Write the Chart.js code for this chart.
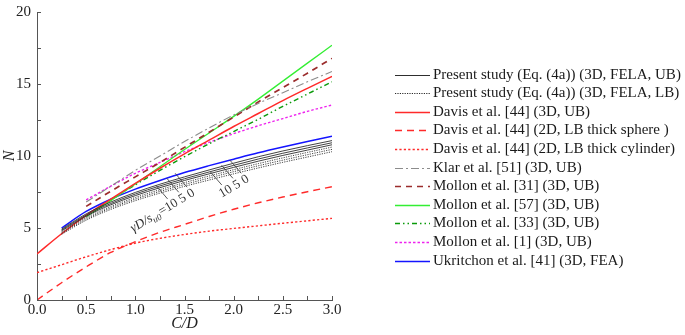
<!DOCTYPE html>
<html>
<head>
<meta charset="utf-8">
<script src="https://cdn.jsdelivr.net/npm/chart.js@4.4.1/dist/chart.umd.min.js"></script>
<style>
  html, body { margin: 0; padding: 0; background: #ffffff; }
  #wrap { position: relative; width: 685px; height: 335px; }
</style>
</head>
<body>
<div id="wrap"><canvas id="c" width="685" height="335"></canvas></div>
<script>
// ---------------- DATA ----------------
const CD_FULL    = [0, 0.25, 0.5, 0.75, 1.0, 1.25, 1.5, 1.75, 2.0, 2.25, 2.5, 2.75, 3.0];
const CD_FROM025 = [0.25, 0.5, 0.75, 1.0, 1.25, 1.5, 1.75, 2.0, 2.25, 2.5, 2.75, 3.0];
const CD_FROM05  = [0.5, 0.75, 1.0, 1.25, 1.5, 1.75, 2.0, 2.25, 2.5, 2.75, 3.0];

// Present study, upper bound (solid), three values of gamma*D/s_u0
const PRESENT_UB_A = [4.92, 5.98, 6.80, 7.47, 8.04, 8.55, 9.03, 9.50, 9.95, 10.35, 10.72, 11.07];
const PRESENT_UB_B = [4.86, 5.90, 6.70, 7.36, 7.92, 8.42, 8.89, 9.35, 9.79, 10.19, 10.56, 10.92];
const PRESENT_UB_C = [4.80, 5.82, 6.61, 7.25, 7.80, 8.30, 8.76, 9.21, 9.64, 10.04, 10.41, 10.78];
// Present study, lower bound (dotted)
const PRESENT_LB_A = [4.72, 5.72, 6.49, 7.12, 7.66, 8.15, 8.61, 9.05, 9.47, 9.87, 10.25, 10.62];
const PRESENT_LB_B = [4.64, 5.63, 6.39, 7.01, 7.54, 8.02, 8.47, 8.91, 9.32, 9.71, 10.09, 10.46];
const PRESENT_LB_C = [4.56, 5.54, 6.29, 6.90, 7.42, 7.89, 8.33, 8.76, 9.17, 9.56, 9.93, 10.30];

const DAVIS_3D_UB     = [3.20, 4.60, 5.88, 7.00, 8.10, 9.15, 10.15, 11.10, 12.05, 12.95, 13.85, 14.70, 15.53];
const DAVIS_2D_SPHERE = [0.00, 1.20, 2.30, 3.30, 4.05, 4.70, 5.25, 5.80, 6.30, 6.75, 7.15, 7.52, 7.87];
const DAVIS_2D_CYL    = [1.90, 2.45, 3.00, 3.50, 3.95, 4.28, 4.55, 4.78, 4.97, 5.15, 5.33, 5.50, 5.67];

const KLAR_51    = [6.80, 7.90, 9.00, 10.00, 11.00, 11.95, 12.85, 13.65, 14.40, 15.15, 15.87];
const MOLLON_31  = [6.50, 7.55, 8.55, 9.55, 10.60, 11.65, 12.70, 13.75, 14.75, 15.75, 16.78];
const MOLLON_57  = [5.80, 6.90, 8.05, 9.25, 10.45, 11.60, 12.75, 13.95, 15.20, 16.45, 17.69];
const MOLLON_33  = [5.80, 6.95, 8.00, 9.00, 9.95, 10.85, 11.70, 12.55, 13.45, 14.30, 15.15];
const MOLLON_1   = [6.95, 7.90, 8.80, 9.55, 10.30, 10.95, 11.55, 12.10, 12.60, 13.10, 13.54];
const UKRITCHON_41 = [5.00, 6.15, 7.00, 7.70, 8.30, 8.85, 9.33, 9.78, 10.22, 10.62, 11.00, 11.37];

const X_TICK_LABELS = ['0.0', '0.5', '1.0', '1.5', '2.0', '2.5', '3.0'];
const Y_TICK_LABELS = ['0', '5', '10', '15', '20'];
const GAMMA_VALUES_TEXT = '10 5 0';

// ---------------- helpers ----------------
const SERIF = '"Liberation Serif", "Times New Roman", serif';
function pts(xs, ys) { return xs.map((x, i) => ({ x: x, y: ys[i] })); }
function line(label, xs, ys, color, width, dash, inLegend) {
  return {
    label: label, data: pts(xs, ys), borderColor: color, backgroundColor: color,
    borderWidth: width, borderDash: dash || [], pointRadius: 0, pointHoverRadius: 0,
    fill: false, cubicInterpolationMode: 'monotone', inLegend: inLegend
  };
}

const UB_COLOR = '#2e2e2e', LB_COLOR = '#2a2a2a';
const datasets = [
  line('Present study (Eq. (4a)) (3D, FELA, UB)', CD_FROM025, PRESENT_UB_A, UB_COLOR, 0.9, [], true),
  line('Present study (Eq. (4a)) (3D, FELA, UB)', CD_FROM025, PRESENT_UB_B, UB_COLOR, 0.9, [], false),
  line('Present study (Eq. (4a)) (3D, FELA, UB)', CD_FROM025, PRESENT_UB_C, UB_COLOR, 0.9, [], false),
  line('Present study (Eq. (4a)) (3D, FELA, LB)', CD_FROM025, PRESENT_LB_A, LB_COLOR, 0.9, [1.2, 1.2], true),
  line('Present study (Eq. (4a)) (3D, FELA, LB)', CD_FROM025, PRESENT_LB_B, LB_COLOR, 0.9, [1.2, 1.2], false),
  line('Present study (Eq. (4a)) (3D, FELA, LB)', CD_FROM025, PRESENT_LB_C, LB_COLOR, 0.9, [1.2, 1.2], false),
  line('Davis et al. [44] (3D, UB)', CD_FULL, DAVIS_3D_UB, '#ff2a2a', 1.5, [], true),
  line('Davis et al. [44] (2D, LB thick sphere )', CD_FULL, DAVIS_2D_SPHERE, '#ff2a2a', 1.4, [7, 5], true),
  line('Davis et al. [44] (2D, LB thick cylinder)', CD_FULL, DAVIS_2D_CYL, '#ff2a2a', 1.4, [2.2, 2.2], true),
  line('Klar et al. [51] (3D, UB)', CD_FROM05, KLAR_51, '#8c8c8c', 1.1, [8, 3, 2, 3], true),
  line('Mollon et al. [31] (3D, UB)', CD_FROM05, MOLLON_31, '#9b2c2c', 1.7, [6, 5], true),
  line('Mollon et al. [57] (3D, UB)', CD_FROM05, MOLLON_57, '#33ee33', 1.3, [], true),
  line('Mollon et al. [33] (3D, UB)', CD_FROM05, MOLLON_33, '#0a9a0a', 1.4, [5, 3, 1.5, 3, 1.5, 3], true),
  line('Mollon et al. [1] (3D, UB)', CD_FROM05, MOLLON_1, '#ee22ee', 1.4, [2.5, 2], true),
  line('Ukritchon et al. [41] (3D, FEA)', CD_FROM025, UKRITCHON_41, '#1414ff', 1.5, [], true)
];

// ---------------- plugins ----------------
const inwardTicks = {
  id: 'inwardTicks',
  afterDraw(chart) {
    const { ctx } = chart; const x = chart.scales.x, y = chart.scales.y;
    ctx.save(); ctx.strokeStyle = '#555'; ctx.lineWidth = 1; ctx.setLineDash([]);
    ctx.beginPath();
    x.ticks.forEach(t => { const p = Math.round(x.getPixelForValue(t.value)) + 0.5; ctx.moveTo(p, x.top); ctx.lineTo(p, x.top - 4); });
    y.ticks.forEach(t => { const p = Math.round(y.getPixelForValue(t.value)) + 0.5; ctx.moveTo(y.right, p); ctx.lineTo(y.right + 4, p); });
    ctx.stroke(); ctx.restore();
  }
};

const sideLegend = {
  id: 'sideLegend',
  afterDraw(chart) {
    const ctx = chart.ctx; const area = chart.chartArea;
    const x0 = area.right + 63, len = 35, tx = x0 + 38, y0 = 74.5, dy = 18.6;
    ctx.save();
    ctx.font = '15px ' + SERIF; ctx.textBaseline = 'middle'; ctx.textAlign = 'left';
    let row = 0;
    chart.data.datasets.forEach(ds => {
      if (!ds.inLegend) return;
      const yy = Math.round(y0 + row * dy) + 0.5;
      ctx.strokeStyle = ds.borderColor; ctx.lineWidth = Math.max(ds.borderWidth, 1);
      ctx.setLineDash(ds.borderDash || []);
      ctx.beginPath(); ctx.moveTo(x0, yy); ctx.lineTo(x0 + len, yy); ctx.stroke();
      ctx.setLineDash([]); ctx.fillStyle = '#1a1a1a'; ctx.fillText(ds.label, tx, yy);
      row++;
    });
    ctx.restore();
  }
};

// rotated gamma labels with leader lines; anchored in data coordinates
const GAMMA_LABELS = [
  { at: [0.98, 4.70], prefix: true, lead: 18 },
  { at: [1.88, 7.10], prefix: false, lead: 17 }
];
const gammaLabels = {
  id: 'gammaLabels',
  afterDatasetsDraw(chart) {
    const ctx = chart.ctx; const x = chart.scales.x, y = chart.scales.y;
    ctx.save();
    ctx.fillStyle = '#333'; ctx.strokeStyle = '#444'; ctx.lineWidth = 0.8; ctx.setLineDash([]);
    ctx.textBaseline = 'alphabetic'; ctx.textAlign = 'left';
    GAMMA_LABELS.forEach(g => {
      ctx.save();
      ctx.translate(x.getPixelForValue(g.at[0]), y.getPixelForValue(g.at[1]));
      ctx.rotate(-31 * Math.PI / 180);
      let cx = 0;
      if (g.prefix) {
        ctx.font = 'italic 13px ' + SERIF; ctx.fillText('γD/s', cx, 0); cx += ctx.measureText('γD/s').width;
        ctx.font = 'italic 9px ' + SERIF; ctx.fillText('u0', cx, 3); cx += ctx.measureText('u0').width + 0.5;
        ctx.font = '13px ' + SERIF; ctx.fillText('=', cx, 0); cx += ctx.measureText('=').width;
      }
      ctx.font = '13px ' + SERIF;
      const parts = GAMMA_VALUES_TEXT.split(' ');
      ctx.beginPath();
      parts.forEach((p, i) => {
        const w = ctx.measureText(p).width;
        ctx.fillText(p, cx, 0);
        const mid = cx + w / 2;
        ctx.moveTo(mid, -11); ctx.lineTo(mid - 3, -11 - g.lead);
        cx += w + ctx.measureText(' ').width;
      });
      ctx.stroke();
      ctx.restore();
    });
    ctx.restore();
  }
};

// ---------------- chart ----------------
new Chart(document.getElementById('c'), {
  type: 'line',
  data: { datasets: datasets },
  plugins: [inwardTicks, sideLegend, gammaLabels],
  options: {
    responsive: false, animation: false, devicePixelRatio: 1,
    layout: { padding: { left: 0, top: 6, right: 353, bottom: 0 } },
    plugins: { legend: { display: false }, tooltip: { enabled: false } },
    events: [],
    scales: {
      x: {
        type: 'linear', min: 0, max: 3,
        afterFit(s) { s.height = 35; },
        grid: { display: true, drawOnChartArea: false, drawTicks: false },
        border: { display: true, color: '#555', width: 1 },
        ticks: {
          stepSize: 0.25, autoSkip: false, maxRotation: 0, padding: 1, color: '#222',
          font: { family: SERIF, size: 15 },
          callback: function (v) { const k = Math.round(v * 4); return k % 2 === 0 ? X_TICK_LABELS[k / 2] : ''; }
        },
        title: { display: true, text: 'C/D', color: '#222', padding: { top: 0, bottom: 2 },
                 font: { family: SERIF, size: 16, style: 'italic' } }
      },
      y: {
        type: 'linear', min: 0, max: 20,
        afterFit(s) { s.width = 37; },
        grid: { display: true, drawOnChartArea: false, drawTicks: false },
        border: { display: true, color: '#555', width: 1 },
        ticks: {
          stepSize: 2.5, autoSkip: false, padding: 6, color: '#222',
          font: { family: SERIF, size: 15, lineHeight: 0.8 },
          callback: function (v) { const k = Math.round(v / 2.5); return k % 2 === 0 ? Y_TICK_LABELS[k / 2] : ''; }
        },
        title: { display: true, text: 'N', color: '#222', padding: { top: 0, bottom: 0 },
                 font: { family: SERIF, size: 16, style: 'italic', lineHeight: 1.2 } }
      }
    }
  }
});
</script>
</body>
</html>
